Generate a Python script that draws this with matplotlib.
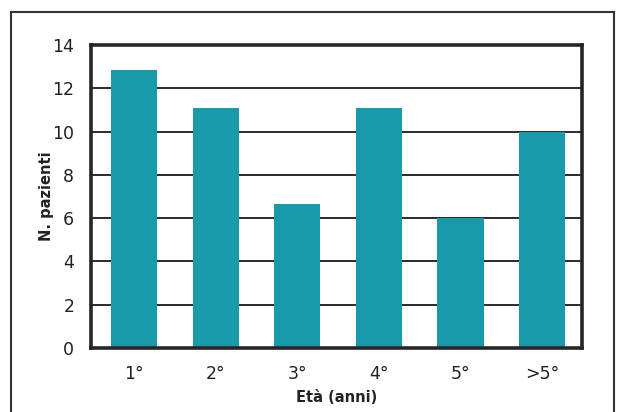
import matplotlib.pyplot as plt
from matplotlib.patches import Rectangle

categories = ["1°", "2°", "3°", "4°", "5°", ">5°"]
pazienti = [12.85, 11.1, 6.65, 11.1, 6.0, 10.0]
yticks = [0, 2, 4, 6, 8, 10, 12, 14]

fig = plt.figure(figsize=(6.21, 4.12), dpi=100)
ax = fig.add_axes([91/621, 1-348/412, (582-91)/621, (348-45)/412])

# grid lines behind the bars
for y in yticks[1:-1]:
    ax.axhline(y, color="#2a2a2a", lw=1.4, zorder=1)

x = range(len(categories))
ax.bar(x, pazienti, width=0.565, color="#189aaa", zorder=2)

ax.set_xlim(-0.53, 5.49)
ax.set_ylim(0, 14)
ax.set_yticks(yticks)
ax.set_xticks(list(x))
ax.set_xticklabels(categories)
ax.tick_params(axis="both", length=0, labelsize=12.5, colors="#222222")
ax.tick_params(axis="y", pad=12)
ax.tick_params(axis="x", pad=12)
for s in ax.spines.values():
    s.set_linewidth(2.6)
    s.set_color("#262626")

ax.set_ylabel("N. pazienti", fontsize=10.5, fontweight="bold", color="#222222", labelpad=-1)
ax.set_xlabel("Età (anni)", fontsize=10.5, fontweight="bold", color="#222222", labelpad=5)

# outer frame
fig.patches.append(Rectangle((11/621, -0.02), (614-11)/621, 1.02-12/412,
                             transform=fig.transFigure, fill=False,
                             edgecolor="#333333", lw=1.5))

fig.savefig("out.png", dpi=100)
